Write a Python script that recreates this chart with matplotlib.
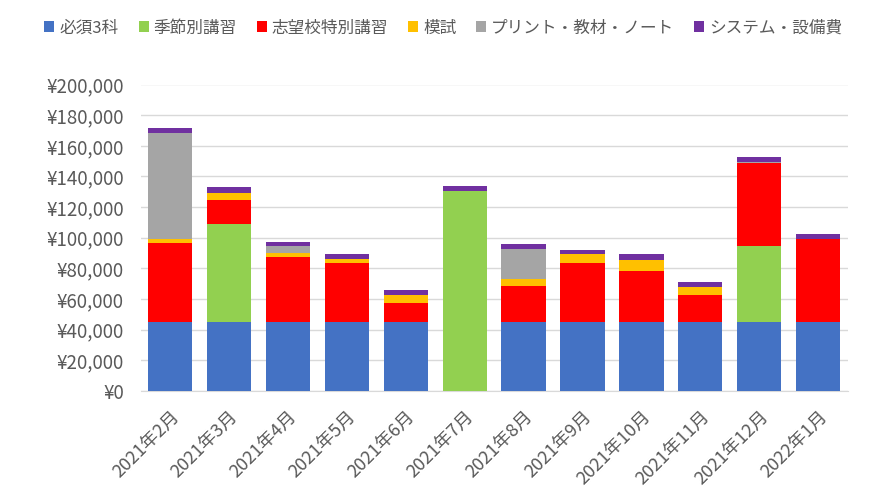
import matplotlib
matplotlib.use("Agg")
import matplotlib.pyplot as plt
import numpy as np
from matplotlib.ticker import FuncFormatter

plt.rcParams['font.family'] = ['Noto Sans CJK JP', 'DejaVu Sans']

months = ["2021年2月", "2021年3月", "2021年4月", "2021年5月", "2021年6月", "2021年7月",
          "2021年8月", "2021年9月", "2021年10月", "2021年11月", "2021年12月", "2022年1月"]

hissu = [45000, 45000, 45000, 45000, 45000, 0, 45000, 45000, 45000, 45000, 45000, 45000]
kisetsu = [0, 63700, 0, 0, 0, 130500, 0, 0, 0, 0, 49300, 0]
shibou = [51500, 15800, 42300, 38800, 12200, 0, 23800, 38800, 33000, 17900, 54400, 53900]
moshi = [3000, 5000, 2700, 2600, 5500, 0, 4600, 5700, 7200, 5200, 0, 0]
print_ = [68800, 0, 4600, 0, 0, 0, 19200, 0, 500, 0, 500, 0]
system = [3300, 3300, 2800, 3300, 3400, 3100, 3000, 2800, 3400, 3300, 3400, 3300]

series = [
    ("必須3科", hissu, "#4472C4"),
    ("季節別講習", kisetsu, "#92D050"),
    ("志望校特別講習", shibou, "#FF0000"),
    ("模試", moshi, "#FFC000"),
    ("プリント・教材・ノート", print_, "#A5A5A5"),
    ("システム・設備費", system, "#7030A0"),
]

fig = plt.figure(figsize=(8.73, 5.0), dpi=100)
ax = fig.add_axes([0.161, 0.218, 0.810, 0.613])

x = np.arange(len(months))
bottom = np.zeros(len(months))
for name, vals, col in series:
    v = np.array(vals, dtype=float)
    ax.bar(x, v, bottom=bottom, width=0.75, color=col, label=name, zorder=3)
    bottom += v

ax.set_xlim(-0.5, len(months) - 0.5)
ax.set_ylim(0, 200000)
ax.set_yticks(np.arange(0, 200001, 20000))
ax.yaxis.set_major_formatter(FuncFormatter(lambda v, p: "¥{:,.0f}".format(v)))
ax.grid(axis='y', color='#D9D9D9', linewidth=1, zorder=0)
for s in ['top', 'right', 'left']:
    ax.spines[s].set_visible(False)
ax.spines['bottom'].set_color('#D9D9D9')
ax.tick_params(axis='both', length=0, colors='#595959')
ax.tick_params(axis='y', labelsize=13.5, pad=12)
ax.tick_params(axis='x', labelsize=13, pad=12)
ax.set_xticks(x)
ax.set_xticklabels(months, rotation=45, ha='right', rotation_mode='anchor')

handles, labels = ax.get_legend_handles_labels()
leg = fig.legend(handles, labels, loc='center', bbox_to_anchor=(0.508, 0.944), ncol=6,
                 frameon=False, fontsize=12, handlelength=0.6, handleheight=0.6,
                 handletextpad=0.3, columnspacing=1.2, labelcolor='#595959')

fig.savefig("out.png", dpi=100)
